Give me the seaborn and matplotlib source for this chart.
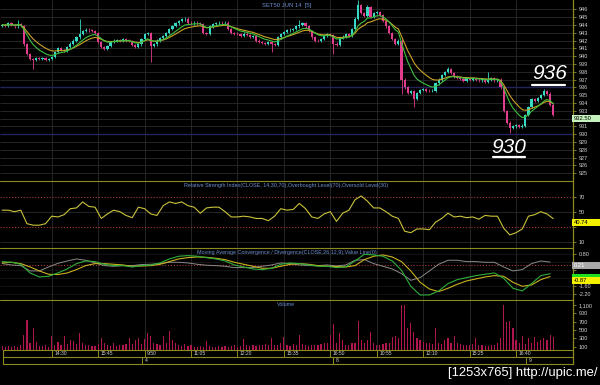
import numpy as np
import pandas as pd
import matplotlib
matplotlib.use("Agg")
import matplotlib.pyplot as plt
import seaborn as sns
from matplotlib.lines import Line2D
from matplotlib.patches import Rectangle
from matplotlib import font_manager

# ---------------- data (5-minute bars) ----------------
closes = [
    944.0, 943.9, 944.2, 944.0, 943.8, 944.1, 943.9, 941.5, 940.3, 939.6,   # 0-9
    939.5, 939.8, 939.6, 939.7, 939.5, 939.6, 939.9, 940.5, 941.0, 940.8,   # 10-19
    940.7, 941.2, 941.6, 942.0, 942.4, 942.8, 943.2, 943.4, 943.3, 943.2,   # 20-29
    943.0, 941.8, 941.2, 940.9, 941.3, 941.8, 942.0, 942.1, 942.0, 942.2,   # 30-39
    942.0, 941.9, 941.4, 941.2, 941.5, 942.2, 942.8, 943.0, 941.3, 941.5,   # 40-49
    942.0, 942.3, 942.6, 943.0, 943.5, 943.9, 944.2, 944.5, 944.7, 944.8,   # 50-59
    944.3, 944.2, 944.3, 944.2, 944.1, 943.0, 942.9, 943.8, 944.1, 944.2,   # 60-69
    944.3, 944.2, 944.3, 943.5, 943.0, 942.9, 942.8, 942.6, 942.9, 942.7,   # 70-79
    942.5, 942.6, 942.0, 941.8, 941.7, 941.6, 941.8, 941.5, 941.4, 942.4,   # 80-89
    942.8, 943.1, 943.3, 943.4, 943.5, 943.8, 944.0, 944.2, 943.8, 943.2,   # 90-99
    942.4, 942.0, 941.9, 942.2, 942.6, 942.8, 942.7, 941.6, 941.4, 942.3,   # 100-109
    942.5, 942.8, 942.6, 943.5, 944.8, 946.5, 945.5, 945.2, 946.3, 945.0,   # 110-119
    945.5, 945.6, 945.3, 944.5, 943.8, 943.0, 942.2, 941.6, 942.0, 937.0,   # 120-129
    936.0, 935.3, 935.5, 934.5, 935.3, 935.7, 935.8, 935.6, 935.5, 935.6,   # 130-139
    936.5, 937.0, 937.6, 938.0, 938.3, 937.8, 937.4, 937.2, 937.1, 936.8,   # 140-149
    937.2, 937.0, 937.2, 937.0, 936.9, 937.1, 936.7, 937.0, 937.2, 936.9,   # 150-159
    937.0, 936.0, 933.0, 931.5, 930.8, 931.0, 931.2, 930.9, 931.1, 932.5,   # 160-169
    933.5, 934.5, 934.3, 934.6, 935.0, 935.5, 935.2, 933.8, 932.5,          # 170-178
]
first_open = 943.9
wick_highs = {5: 944.6, 25: 944.7, 59: 945.0, 96: 944.6, 115: 947.2, 118: 946.6,
              144: 938.6, 157: 938.0, 175: 935.8}
wick_lows = {10: 938.4, 48: 939.2, 87: 940.5, 107: 940.3, 129: 935.2, 133: 933.5, 164: 930.2}

volumes = [
    110, 100, 120, 90, 110, 100, 130, 380, 740, 180,
    560, 220, 120, 110, 130, 100, 350, 150, 220, 140,
    350, 170, 260, 230, 160, 430, 180, 150, 140, 120,
    110, 170, 300, 200, 140, 120, 180, 110, 150, 130,
    170, 300, 160, 250, 320, 160, 280, 420, 360, 200,
    170, 150, 360, 200, 480, 250, 180, 140, 120, 160,
    110, 130, 100, 90, 120, 100, 230, 110, 100, 90,
    110, 100, 120, 100, 110, 130, 100, 120, 290, 130,
    110, 150, 120, 140, 130, 160, 140, 320, 150, 130,
    200, 340, 150, 120, 170, 130, 380, 160, 140, 120,
    150, 130, 140, 160, 180, 200, 380, 640, 180, 420,
    260, 150, 140, 180, 200, 720, 260, 200, 250, 460,
    200, 150, 130, 160, 180, 200, 340, 350, 300, 1100,
    1100, 540, 680, 450, 300, 250, 220, 200, 180, 170,
    560, 200, 170, 250, 300, 200, 350, 180, 160, 150,
    140, 130, 160, 320, 150, 130, 120, 110, 130, 150,
    200, 320, 1100, 700, 720, 540, 260, 200, 360, 160,
    300, 200, 330, 220, 260, 300, 250, 380, 340,
]

# RSI, one value every second bar (bars 0, 2, ..., 178)
rsi_values = [
    52, 52, 50, 52, 34, 32, 32, 34, 44, 43,
    46, 54, 55, 63, 57, 56, 41, 47, 52, 50,
    45, 42, 56, 54, 47, 45, 58, 63, 61, 63,
    58, 56, 48, 55, 56, 56, 50, 43, 43, 44,
    43, 41, 41, 38, 44, 54, 52, 53, 61, 54,
    43, 41, 47, 50, 37, 48, 52, 66, 71, 64,
    55, 55, 50, 44, 41, 24, 22, 27, 27, 26,
    36, 41, 48, 43, 44, 42, 43, 40, 45, 44,
    44, 28, 19, 22, 27, 44, 46, 50, 47, 40.74,
]

# MACD lines, one value every third bar (bars 0, 3, ..., 177)
macd_values = [
    0.25, 0.20, 0.05, -0.60, -0.90, -0.85, -0.60, -0.30, 0.10, 0.30,
    0.25, 0.05, -0.05, -0.05, -0.15, -0.05, 0.00, 0.15, 0.45, 0.65,
    0.70, 0.65, 0.55, 0.45, 0.30, 0.00, -0.15, -0.30, -0.35, -0.25,
    0.05, 0.15, 0.10, 0.00, -0.10, -0.10, -0.20, -0.15, 0.30, 0.80,
    0.75, 0.65, 0.30, -0.40, -1.60, -2.25, -2.25, -1.95, -1.40, -1.10,
    -0.95, -0.80, -0.70, -0.60, -1.00, -1.75, -1.95, -1.40, -0.80, -0.66,
]
signal_values = [
    0.15, 0.20, 0.10, -0.15, -0.45, -0.70, -0.72, -0.60, -0.35, -0.05,
    0.10, 0.10, 0.05, 0.00, -0.10, -0.08, -0.05, 0.05, 0.25, 0.45,
    0.55, 0.60, 0.57, 0.50, 0.40, 0.20, 0.05, -0.10, -0.25, -0.25,
    -0.10, 0.05, 0.10, 0.05, -0.05, -0.10, -0.12, -0.15, -0.05, 0.40,
    0.65, 0.75, 0.60, 0.25, -0.45, -1.30, -1.80, -2.00, -1.75, -1.45,
    -1.20, -1.05, -0.90, -0.80, -0.85, -1.30, -1.60, -1.50, -1.10, -0.87,
]
hist_values = [
    0.10, 0.00, -0.05, -0.45, -0.45, -0.15, 0.12, 0.30, 0.45, 0.35,
    0.15, -0.05, -0.10, -0.05, -0.05, 0.03, 0.05, 0.10, 0.20, 0.20,
    0.15, 0.05, -0.02, -0.05, -0.10, -0.20, -0.20, -0.20, -0.10, 0.00,
    0.15, 0.10, 0.00, -0.05, -0.05, 0.00, -0.08, 0.00, 0.35, 0.40,
    0.10, -0.10, -0.30, -0.65, -1.15, -0.95, -0.45, 0.05, 0.35, 0.35,
    0.25, 0.25, 0.20, 0.20, -0.15, -0.45, -0.35, 0.10, 0.30, 0.21,
]

time_labels = ['14:30', '15:45', '9:50', '11:05', '12:20', '15:35',
               '16:50', '10:55', '12:10', '15:25', '16:40']
time_bars = [16, 31, 46, 61, 76, 91, 106, 121, 136, 151, 166]
day_labels = ['4', '8', '9']
day_bars = [45.2, 106.8, 169.2]
price_ticks = list(range(925, 947))
rsi_ticks = [70, 50, 30, 10]
macd_ticks = [0.80, 0.20, -0.40, -1.00, -1.60, -2.20]
vol_ticks = [1100, 900, 700, 500, 300, 100]
levels = [936, 930]
chart_title = 'SET50 JUN 14  [5]'
rsi_title = 'Relative Strength Index(CLOSE, 14,30,70),Overbought Level(70),Oversold Level(30)'
macd_title = 'Moving Average Convergence / Divergence(CLOSE,26,12,9),Value Line(0)'
vol_title = 'Volume'
watermark = '[1253x765] http://upic.me/'

# ---------------- style ----------------
sns.set_theme(style="dark")
plt.rcParams['font.family'] = ['Liberation Sans', 'DejaVu Sans']
plt.rcParams['axes.facecolor'] = 'black'
plt.rcParams['figure.facecolor'] = 'black'

OLIVE = '#8c8c1e'
GRID = '#2a2a2a'
LBL = '#d2d2d2'
TITLE_C = '#6d8fd0'
UP = '#35d9c4'
DOWN = '#e23c8c'

W, H = 600, 385
fig = plt.figure(figsize=(W / 100, H / 100), dpi=100, facecolor='black')
XMIN, XMAX = -0.71, 184.4
RIGHT = 573


def panel(top, bottom):
    a = fig.add_axes([0, 1 - bottom / H, RIGHT / W, (bottom - top) / H])
    a.set_facecolor('black')
    for s in a.spines.values():
        s.set_visible(False)
    a.set_xlim(XMIN, XMAX)
    a.set_xticks([])
    a.set_xlabel('')
    return a


def right_ticks(a, ticks, labels):
    a.yaxis.tick_right()
    a.set_yticks(ticks)
    a.set_yticklabels(labels)
    a.tick_params(axis='y', which='both', colors=OLIVE, labelcolor=LBL, labelsize=4,
                  length=2.5, width=0.6, pad=1.5, direction='out', left=False, right=True)
    a.set_ylabel('')


def vgrid(a):
    lo, hi = a.get_ylim()
    a.vlines(time_bars, lo, hi, color=GRID, lw=0.6, zorder=0)


bars = np.arange(len(closes))
opens = [first_open] + closes[:-1]

# ---------------- price panel ----------------
ax = panel(0, 180.7)
ax.set_ylim(924.05, 947.19)
ax.hlines(price_ticks, XMIN, XMAX, color=GRID, lw=0.6, zorder=0)
vgrid(ax)
ax.hlines(levels, XMIN, XMAX, color='#23235e', lw=1.0, zorder=1)

for i, (o, c) in enumerate(zip(opens, closes)):
    col = UP if c >= o else DOWN
    hi = wick_highs.get(i, max(o, c) + 0.15)
    lo = wick_lows.get(i, min(o, c) - 0.15)
    ax.vlines(i, lo, hi, color=col, lw=0.6, zorder=3)
    ax.bar(i, max(abs(c - o), 0.1), bottom=min(o, c), width=0.7, color=col,
           edgecolor='none', zorder=3)

s = pd.Series(closes)
fast = s.ewm(span=8, adjust=False).mean()
slow = s.ewm(span=13, adjust=False).mean()
sns.lineplot(x=bars, y=slow.values, ax=ax, color='#c9a227', lw=0.8, zorder=4)
sns.lineplot(x=bars, y=fast.values, ax=ax, color='#3fbf3f', lw=0.8, zorder=5)
# label hidden behind the last-price box in the reference
right_ticks(ax, price_ticks, ['' if t == 932 else str(t) for t in price_ticks])
ax.set_xlim(XMIN, XMAX)
ax.set_xticks([])
ax.set_xlabel('')
ax.text(0.5, 0.985, chart_title, transform=ax.transAxes, ha='center', va='top',
        color=TITLE_C, fontsize=4.2)

# level annotations
ax.text(176.9, 937.75, str(levels[0]), ha='center', va='center', color='white',
        fontsize=15, style='italic', clip_on=False, zorder=10)
ax.plot([171.2, 181.9], [936.3, 936.3], color='white', lw=1.6, zorder=10)
ax.text(163.7, 928.35, str(levels[1]), ha='center', va='center', color='white',
        fontsize=15, style='italic', clip_on=False, zorder=10)
ax.plot([158.5, 168.9], [927.05, 927.05], color='white', lw=1.6, zorder=10)

# ---------------- RSI panel ----------------
ar = panel(180.7, 248)
ar.set_ylim(1.6, 91.3)
ar.hlines([50, 10], XMIN, XMAX, color=GRID, lw=0.6, zorder=0)
vgrid(ar)
ar.hlines([70, 30], XMIN, XMAX, color='#a83a3a', lw=0.8, linestyles=(0, (1, 1.6)), zorder=1)
rsi_bars = np.arange(0, len(closes), 2)
sns.lineplot(x=rsi_bars, y=rsi_values, ax=ar, color='#c9c23a', lw=0.8, zorder=3)
right_ticks(ar, rsi_ticks, ['' if t == 30 else str(t) for t in rsi_ticks])
ar.set_xlim(XMIN, XMAX); ar.set_xticks([]); ar.set_xlabel('')
ar.text(0.5, 0.96, rsi_title, transform=ar.transAxes, ha='center', va='top',
        color=TITLE_C, fontsize=3.9)

# ---------------- MACD panel ----------------
am = panel(248, 299.5)
am.set_ylim(-2.59, 1.27)
am.hlines(macd_ticks, XMIN, XMAX, color='#1c1c1c', lw=0.5, zorder=0)
vgrid(am)
am.hlines([0], XMIN, XMAX, color='#a83a3a', lw=0.8, linestyles=(0, (1, 1.6)), zorder=1)
macd_bars = np.arange(0, len(closes), 3)
sns.lineplot(x=macd_bars, y=hist_values, ax=am, color='#8a8a8a', lw=0.7, zorder=2)
sns.lineplot(x=macd_bars, y=signal_values, ax=am, color='#c9b020', lw=0.8, zorder=3)
sns.lineplot(x=macd_bars, y=macd_values, ax=am, color='#2fae3a', lw=0.8, zorder=4)
hidden = {0.20, -0.40, -1.00}
right_ticks(am, macd_ticks, ['' if t in hidden else '%.2f' % t for t in macd_ticks])
am.set_xlim(XMIN, XMAX); am.set_xticks([]); am.set_xlabel('')
am.text(0.5, 0.96, macd_title, transform=am.transAxes, ha='center', va='top',
        color=TITLE_C, fontsize=3.9)

# ---------------- volume panel ----------------
av = panel(299.5, 350)
av.set_ylim(21, 1232)
vgrid(av)
av.bar(bars, volumes, width=0.38, color='#b0164e', edgecolor='none', zorder=2)
right_ticks(av, vol_ticks, ['{:,}'.format(t) for t in vol_ticks])
av.set_xlim(XMIN, XMAX); av.set_xticks([]); av.set_xlabel('')
av.text(0.5, 0.96, vol_title, transform=av.transAxes, ha='center', va='top',
        color=TITLE_C, fontsize=3.9)

# ---------------- time / date rows ----------------
at = panel(350, 357)
at.set_ylim(0, 1); at.set_yticks([])
at.vlines(time_bars, 0, 1, color=OLIVE, lw=0.7)
for b, lab in zip(time_bars, time_labels):
    at.text(b + 0.8, 0.5, lab, ha='left', va='center', color=LBL, fontsize=3.6)
ad = panel(357, 364)
ad.set_ylim(0, 1); ad.set_yticks([])
ad.vlines(day_bars, 0, 1, color=OLIVE, lw=0.7)
for b, lab in zip(day_bars, day_labels):
    ad.text(b + 0.8, 0.5, lab, ha='left', va='center', color=LBL, fontsize=3.6)

# frame lines
for y in [180.7, 248, 299.5, 350, 357, 364]:
    fig.add_artist(Line2D([2.7 / W if y >= 350 else 0, RIGHT / W], [1 - y / H] * 2,
                          color=OLIVE, lw=0.8))
fig.add_artist(Line2D([RIGHT / W] * 2, [1, 1 - 364 / H], color=OLIVE, lw=0.9))
fig.add_artist(Line2D([2.7 / W] * 2, [1 - 350 / H, 1 - 364 / H], color=OLIVE, lw=0.8))


# ---------------- value boxes on the right axis ----------------
def value_box(a, val, text, fc, tc):
    y_px = a.transData.transform((0, val))[1]
    top = y_px / H
    h = 7.2 / H
    fig.add_artist(Rectangle((572 / W, top - h), 27.5 / W, h, transform=fig.transFigure,
                             facecolor=fc, edgecolor='none', zorder=20))
    if text:
        fig.text(573.5 / W, top - h / 2, text, ha='left', va='center', fontsize=4.2,
                 color=tc, zorder=21)


value_box(ax, closes[-1], '%.2f' % closes[-1], '#c6f2bd', 'black')
value_box(ar, rsi_values[-1], '%.2f' % rsi_values[-1], '#f4f000', 'black')
value_box(am, hist_values[-1], '%.2f' % hist_values[-1], '#a8a8a8', 'white')
# green MACD box is almost fully covered by the signal box in the reference
value_box(am, macd_values[-1], '', '#1fe01f', 'black')
value_box(am, signal_values[-1], '%.2f' % signal_values[-1], '#f4f000', 'black')

avail = {f.name for f in font_manager.fontManager.ttflist}
if 'Liberation Sans Narrow' in avail:
    wm_fam, wm_size = ['Liberation Sans Narrow'], 10.8
elif 'DejaVu Sans Condensed' in avail:
    wm_fam, wm_size = ['DejaVu Sans Condensed'], 9.2
else:
    wm_fam, wm_size = ['Liberation Sans'], 9.4
fig.text(598 / W, 1 - 373 / H, watermark, ha='right', va='center', color='white',
         fontsize=wm_size, family=wm_fam)

fig.savefig('out.png', dpi=100, facecolor='black')
